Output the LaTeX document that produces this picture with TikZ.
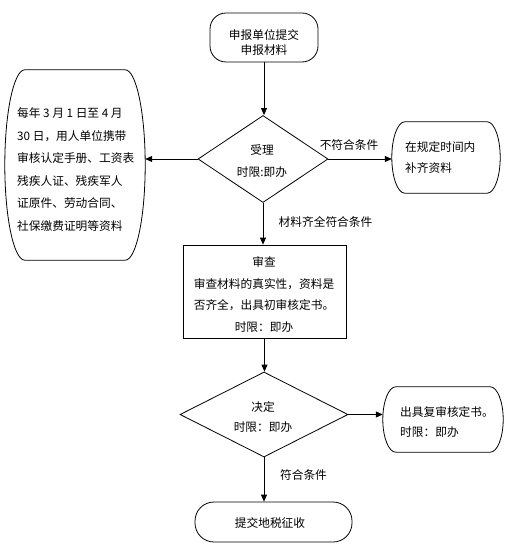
\documentclass[tikz,border=0pt]{standalone}
\usepackage{fontspec}
\newfontfamily\cjk{Noto Sans CJK SC}
\usetikzlibrary{arrows.meta,shapes.geometric,calc}
\newcommand\flowcurvybox[2]{%
 \draw[line width=.8pt] ([xshift=#2]#1.north west) -- ([xshift=-#2]#1.north east)
   .. controls ([xshift=-0.45*#2]#1.north east) and ($(#1.north east)!0.45!(#1.east)$) .. (#1.east)
   .. controls ($(#1.south east)!0.45!(#1.east)$) and ([xshift=-0.45*#2]#1.south east) .. ([xshift=-#2]#1.south east)
   -- ([xshift=#2]#1.south west)
   .. controls ([xshift=0.45*#2]#1.south west) and ($(#1.south west)!0.45!(#1.west)$) .. (#1.west)
   .. controls ($(#1.north west)!0.45!(#1.west)$) and ([xshift=0.45*#2]#1.north west) .. cycle;}
\begin{document}
\begin{tikzpicture}[x=1pt,y=-1pt,
  shapebox/.style={rectangle,draw=none,inner sep=0pt},
  framebox/.style={rectangle,draw,line width=.8pt,inner sep=0pt},
  decide/.style={diamond,draw,line width=.8pt,inner sep=0pt},
  txt/.style={font=\cjk\fontsize{11.7}{#1}\selectfont,inner sep=0pt,align=center},
  txt/.default=22,
  ltxt/.style={font=\cjk\fontsize{11.7}{#1}\selectfont,inner sep=0pt,align=left,anchor=west},
  ltxt/.default=22,
  arr/.style={-{Triangle[length=7pt,width=6pt]},line width=.8pt},
  lbl/.style={font=\cjk\fontsize{11.7}{14}\selectfont,inner sep=0pt}]
\useasboundingbox (0,0) rectangle (508,559);
\fill[white] (0,0) rectangle (508,559);
% shapes
\node[framebox,rounded corners=16pt,minimum width=108pt,minimum height=49pt] (start) at (264,37.5) {};
\node[decide,minimum width=130pt,minimum height=87pt] (d1) at (263,159) {};
\node[shapebox,minimum width=140pt,minimum height=190pt] (lft) at (75,165) {};
\node[shapebox,minimum width=108pt,minimum height=71pt] (r1) at (446,157.5) {};
\node[framebox,minimum width=163pt,minimum height=93pt] (box) at (264.5,291.5) {};
\node[decide,minimum width=168pt,minimum height=85pt] (d2) at (264,414.5) {};
\node[shapebox,minimum width=120pt,minimum height=65pt] (r2) at (443,419.5) {};
\node[framebox,rounded corners=19pt,minimum width=157pt,minimum height=40pt] (end) at (273.5,522) {};
\flowcurvybox{lft}{20pt}
\flowcurvybox{r1}{13pt}
\flowcurvybox{r2}{13pt}
% texts
\node[txt=15] (tstart) at (264,42.5) {申报单位提交\\申报材料};
\node[txt=22] (td1) at (262,161) {受理\\时限:即办};
\node[ltxt=22.6] (tlft) at (17,169.5) {每年 3 月 1 日至 4 月\\30 日，用人单位携带\\审核认定手册、工资表\\残疾人证、残疾军人\\证原件、劳动合同、\\社保缴费证明等资料};
\node[ltxt=21] (tr1) at (405,157.5) {在规定时间内\\补齐资料};
\node[txt=21.7] (tbox) at (264,294.5) {审查\\审查材料的真实性，资料是\\否齐全，出具初审核定书。\\时限：即办};
\node[txt=20] (td2) at (263,417) {决定\\时限：即办};
\node[ltxt=20] (tr2) at (400,422) {出具复审核定书。\\时限：即办};
\node[txt] (tend) at (270,523) {提交地税征收};
% connectors
\draw[arr] (start.south) -- (start.south |- d1.north);
\draw[arr] (d1.west) -- (d1.west -| lft.east);
\draw[arr] (d1.east) -- (d1.east -| r1.west);
\draw[arr] (d1.south) -- (d1.south |- box.north);
\draw[arr] (box.south) -- (box.south |- d2.north);
\draw[arr] (d2.east) -- (d2.east -| r2.west);
\draw[arr] (d2.south) -- (d2.south |- end.north);
% labels
\node[lbl] (l1) at (349,145) {不符合条件};
\node[lbl] (l2) at (325.5,222) {材料齐全符合条件};
\node[lbl] (l3) at (303.5,475) {符合条件};
\end{tikzpicture}
\end{document}
